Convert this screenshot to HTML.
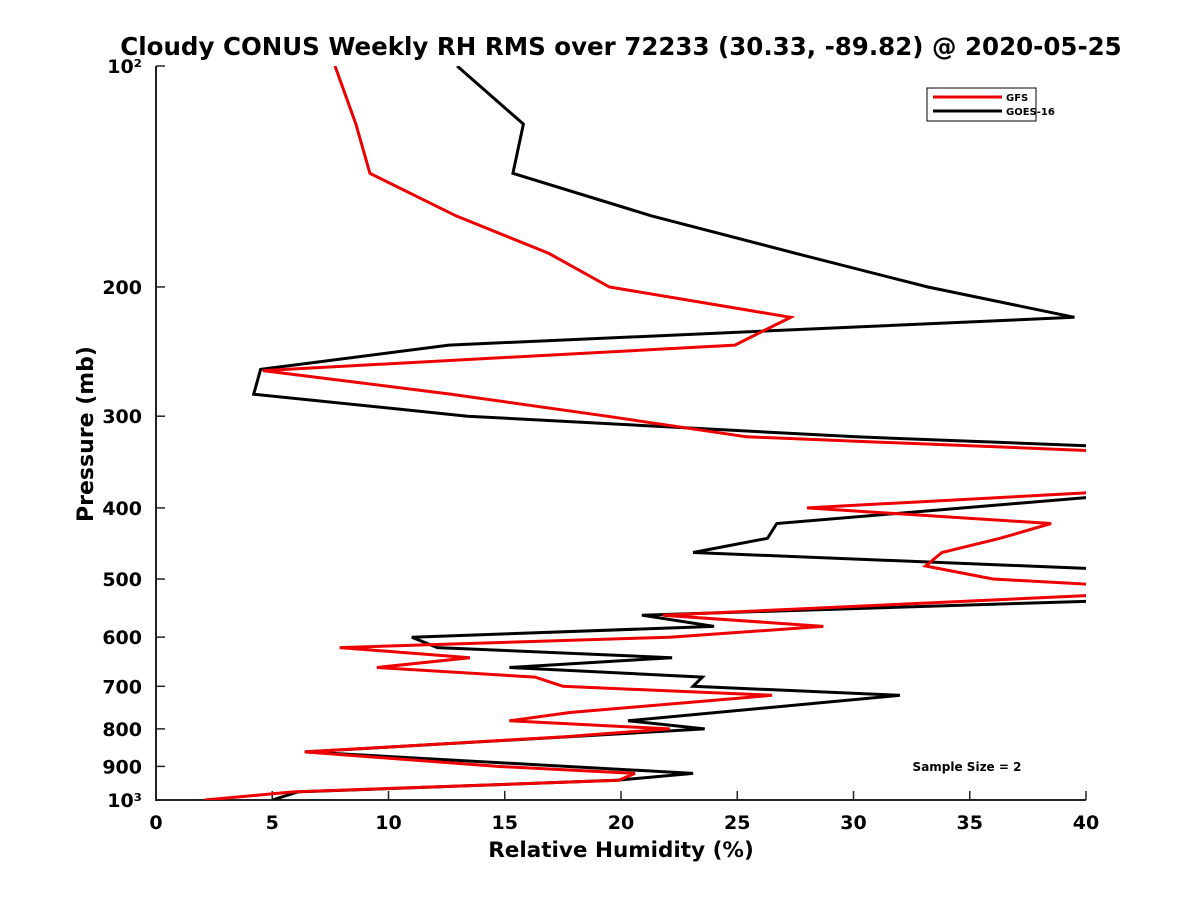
<!DOCTYPE html>
<html><head><meta charset="utf-8"><style>
body{margin:0;background:#fff;}
svg{display:block;font-family:"DejaVu Sans","Liberation Sans",sans-serif;font-weight:bold;}
</style></head><body>
<svg id="chart" width="1200" height="900" viewBox="0 0 1200 900" xmlns="http://www.w3.org/2000/svg">
<rect width="1200" height="900" fill="#fff"/>
<defs><clipPath id="plotclip"><rect x="156" y="66" width="930" height="734"/></clipPath></defs>
<text x="621" y="55" text-anchor="middle" font-size="24.5">Cloudy CONUS Weekly RH RMS over 72233 (30.33, -89.82) @ 2020-05-25</text>
<g id="axes"></g>
<g id="series" clip-path="url(#plotclip)"></g>
<text x="621" y="857" text-anchor="middle" font-size="21.5">Relative Humidity (%)</text>
<text transform="translate(93,434) rotate(-90)" text-anchor="middle" font-size="22">Pressure (mb)</text>
<text x="967" y="771" text-anchor="middle" font-size="12">Sample Size = 2</text>
<g>
<rect x="927" y="88" width="109" height="33" fill="#fff" stroke="#000" stroke-width="1"/>
<line x1="933" y1="97" x2="1002" y2="97" stroke="#e00" stroke-width="3"/>
<text x="1006" y="101" font-size="10">GFS</text>
<line x1="933" y1="111" x2="1002" y2="111" stroke="#000" stroke-width="3"/>
<text x="1006" y="115" font-size="10">GOES-16</text>
</g>
</svg>
<script>
const xTicks=[0,5,10,15,20,25,30,35,40];
const yTicks=[100,200,300,400,500,600,700,800,900,1000];
const yTickLabels=["10²","200","300","400","500","600","700","800","900","10³"];
const gfsPressure=[100,120,140,160,180,200,220,240,260,280,300,320,335,380,400,420,440,460,480,500,510,525,560,580,600,620,640,660,680,700,720,760,780,800,820,860,900,920,940,975,1000];
const gfsRH=[7.7,8.6,9.2,12.9,16.9,19.5,27.3,24.9,4.6,12.7,19.4,25.4,41,41,28.0,38.5,36.3,33.8,33.1,36.0,41,41,21.8,28.7,22.1,7.9,13.5,9.5,16.3,17.5,26.5,17.8,15.2,22.1,17.6,6.4,14.7,20.6,19.9,5.9,2.1];
const goesPressure=[100,120,140,160,181,200,220,240,259,280,300,320,330,385,420,440,460,485,535,560,580,600,620,640,660,680,700,720,780,800,860,920,940,975,1000];
const goesRH=[12.95,15.8,15.35,21.3,27.8,33.2,39.5,12.6,4.5,4.2,13.4,30.1,41,41,26.7,26.3,23.1,41,41,20.9,24.0,11.0,12.1,22.2,15.2,23.5,23.1,32.0,20.3,23.6,6.4,23.1,19.8,6.1,5.0];
const X0=156,X1=1086,Y0=66,Y1=800;
const xs=v=>X0+(v-0)/(40-0)*(X1-X0);
const ys=p=>Y0+Math.log10(p/100)*(Y1-Y0);
const NS="http://www.w3.org/2000/svg";
const axes=document.getElementById('axes');
function mk(tag,attrs,parent){const e=document.createElementNS(NS,tag);for(const k in attrs)e.setAttribute(k,attrs[k]);parent.appendChild(e);return e;}
const frame=mk('path',{d:`M${X0},${Y0}V${Y1}H${X1}`,fill:'none',stroke:'#222','stroke-width':2},axes);


xTicks.forEach(t=>{
  const x=xs(t);
  const l=mk('line',{x1:x,x2:x,y1:Y1,y2:Y1-9,stroke:'#222','stroke-width':1.5},axes);
  
  
  const tx=mk('text',{x:x,y:Y1+29,'text-anchor':'middle','font-size':19},axes);
  tx.textContent=t;
  
  
});
yTicks.forEach((t,i)=>{
  const y=ys(t);
  const l=mk('line',{x1:X0,x2:X0+9,y1:y,y2:y,stroke:'#222','stroke-width':1.5},axes);
  
  
  const tx=mk('text',{x:X0-14,y:y+7,'text-anchor':'end','font-size':19},axes);
  tx.textContent=yTickLabels[i];
  
  
});
const series=document.getElementById('series');
function line(pr,vals,color,name){
  const d=pr.map((p,i)=>(i?'L':'M')+xs(vals[i]).toFixed(1)+','+ys(p).toFixed(1)).join('');
  const e=mk('path',{d:d,fill:'none',stroke:color,'stroke-width':3,'stroke-linejoin':'miter'},series);
  
  
}
line(goesPressure,goesRH,'#000','goes16-line');
line(gfsPressure,gfsRH,'#e00','gfs-line');
</script>
</body></html>
